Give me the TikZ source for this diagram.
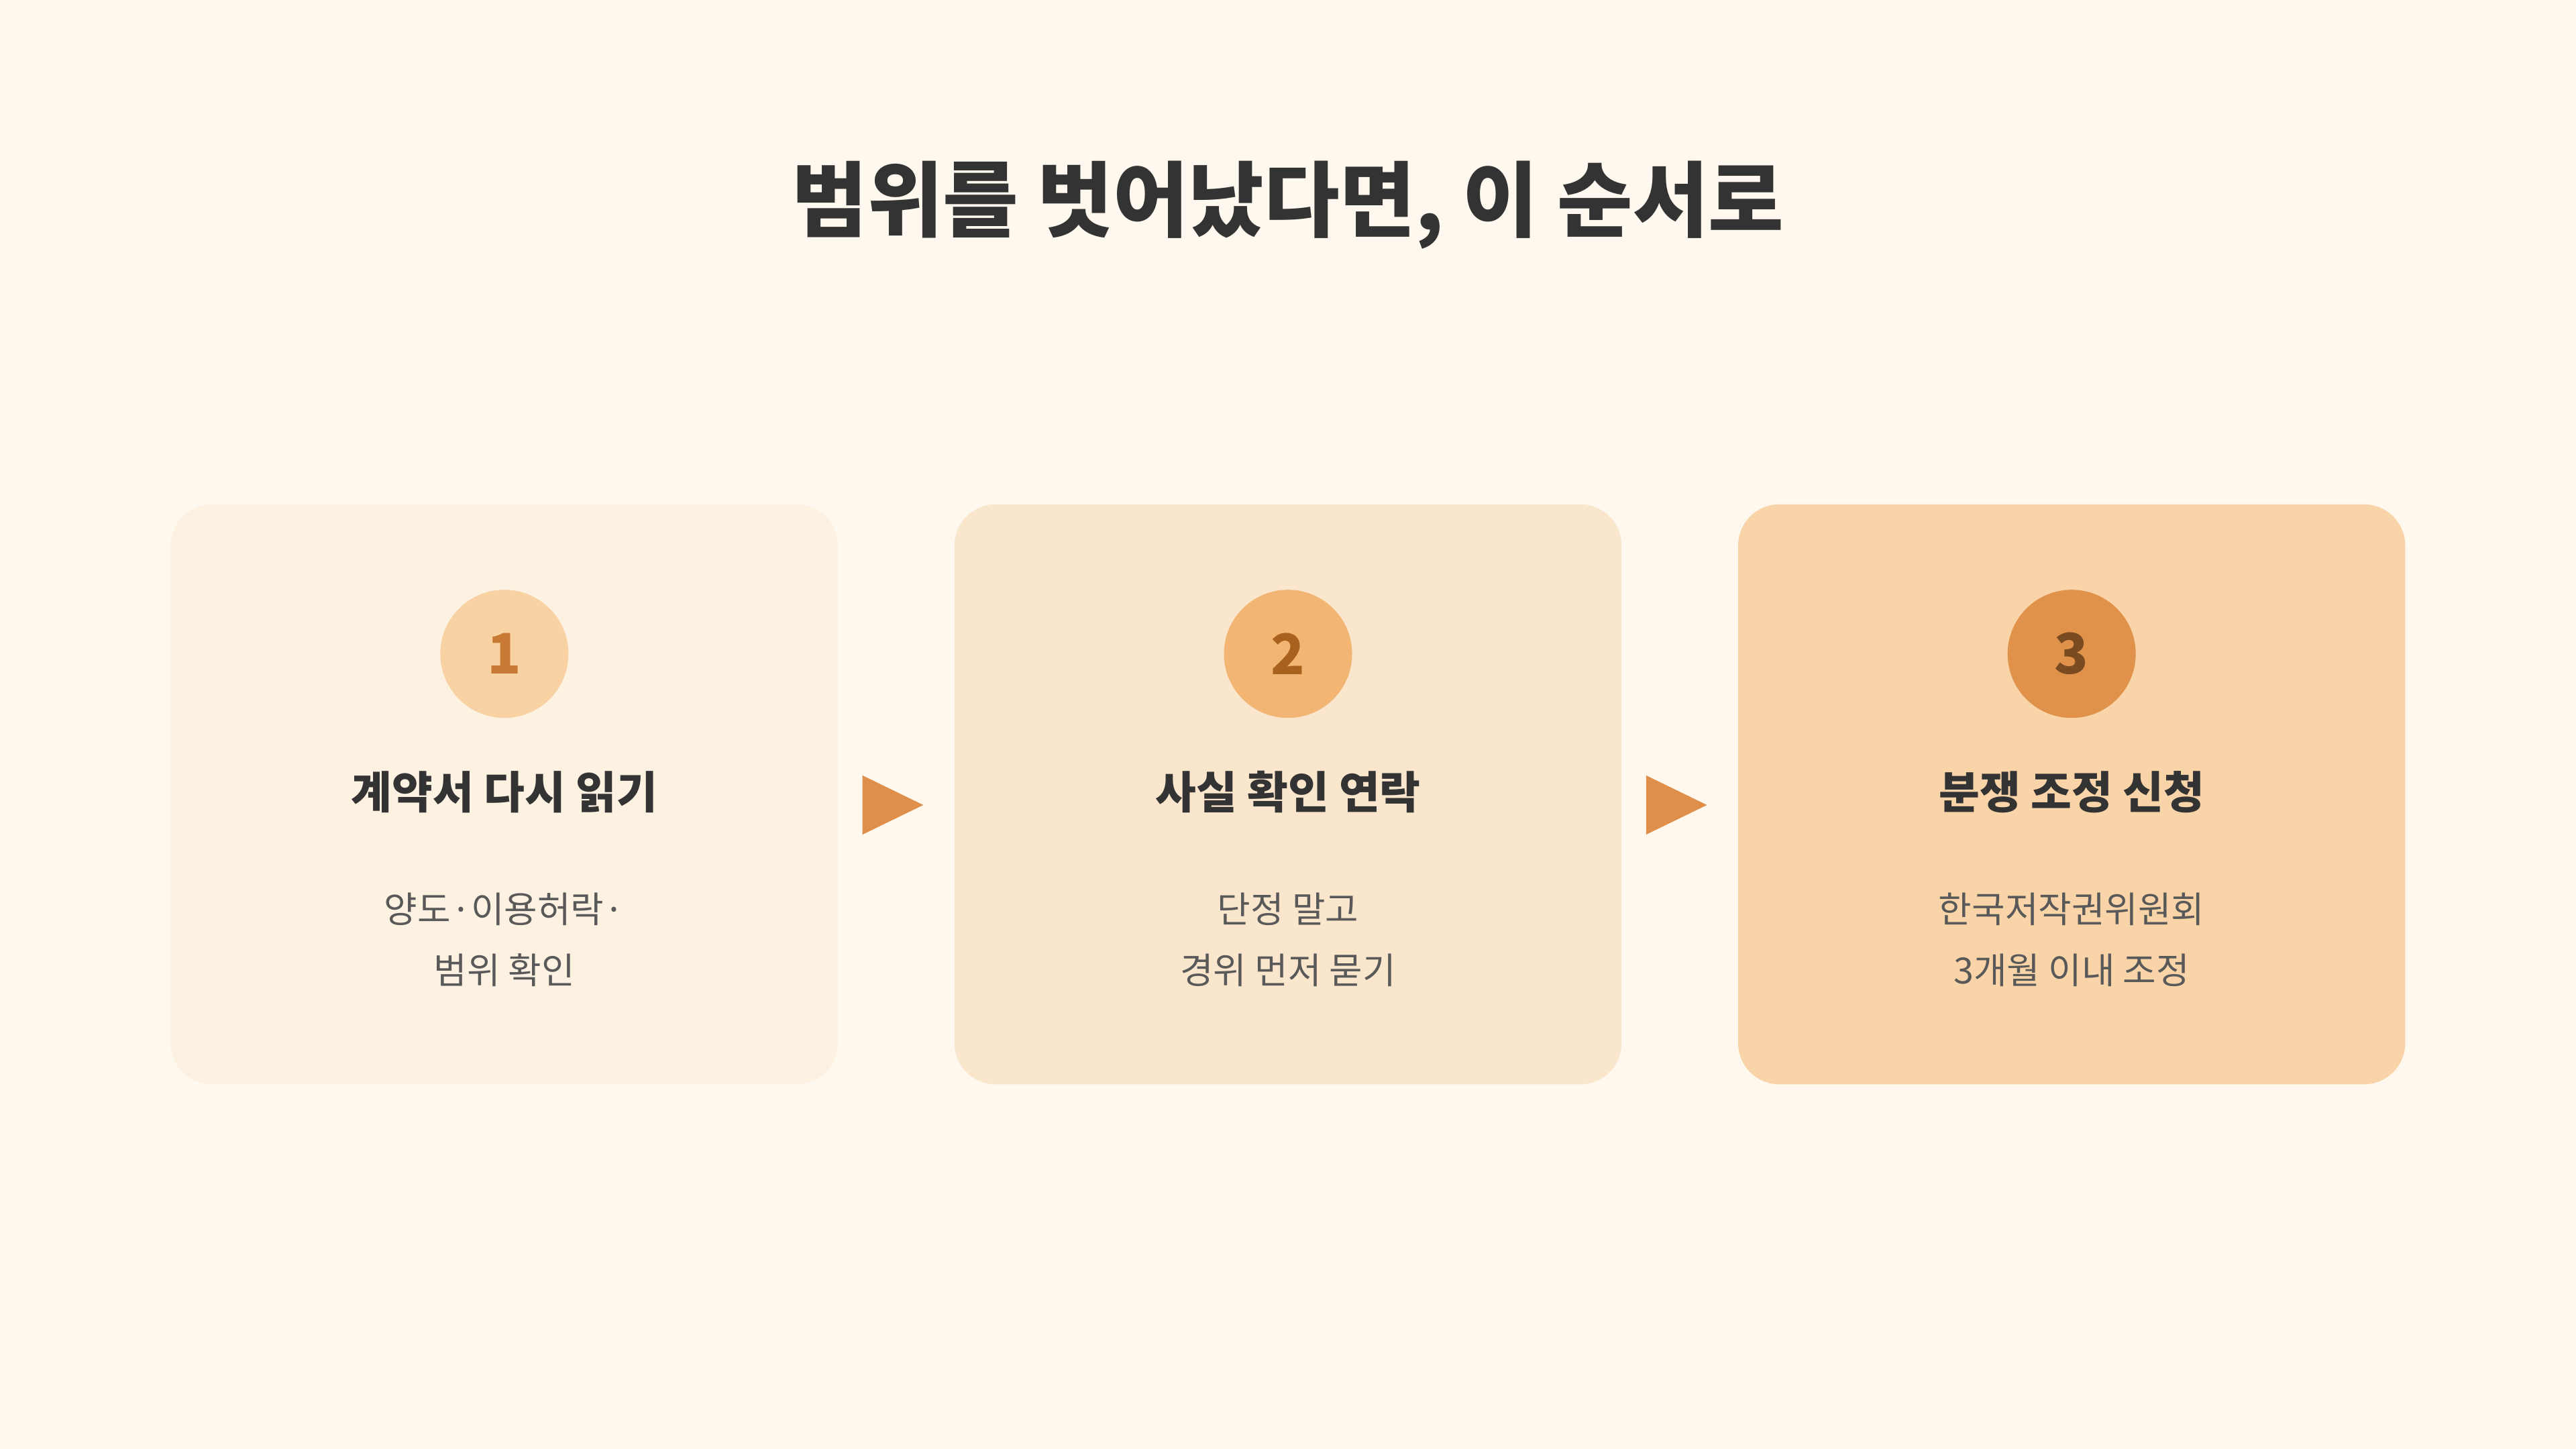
\documentclass[tikz,border=0pt]{standalone}
\usepackage{fontspec}
\setmainfont{Noto Sans CJK KR}
\begin{document}
\begin{tikzpicture}[x=1pt,y=-1pt,
 box/.style={rounded corners=25pt,draw=none},
 num/.style={circle,minimum size=78pt,inner sep=0pt,font=\fontsize{34}{36}\selectfont\bfseries},
 ttl/.style={font=\fontsize{27}{30}\selectfont\bfseries,text=black!80},
 body/.style={font=\fontsize{22}{37}\selectfont,text=black!65,align=center},
 arr/.style={fill=arrc,draw=none}]
\definecolor{bg}{HTML}{FEF8EE}
\definecolor{b1}{HTML}{FDF1E2}\definecolor{b2}{HTML}{FAE6CC}\definecolor{b3}{HTML}{F8D4A8}
\definecolor{c1}{HTML}{F9D2A4}\definecolor{c2}{HTML}{F2B574}\definecolor{c3}{HTML}{E0914A}
\definecolor{t1}{HTML}{C87A35}\definecolor{t2}{HTML}{A8621E}\definecolor{t3}{HTML}{7A4A20}
\definecolor{arrc}{HTML}{E08F4A}
\fill[bg] (0,0) rectangle (1568,882);
\useasboundingbox (0,0) rectangle (1568,882);
\node[font=\fontsize{50}{55}\selectfont\bfseries,text=black!80] (title) at (784,125) {범위를 벗어났다면, 이 순서로};
\foreach \i/\x/\t/\b/\c/\tc in {1/307/계약서 다시 읽기/{양도·이용허락·\\범위 확인}/c1/t1,
 2/784/사실 확인 연락/{단정 말고\\경위 먼저 묻기}/c2/t2,
 3/1261/분쟁 조정 신청/{한국저작권위원회\\3개월 이내 조정}/c3/t3}{
 \fill[b\i,rounded corners=25pt] (\x-203,307) rectangle (\x+203,660);
 \node[num,fill=\c,text=\tc] (n\i) at (\x,398) {\i};
 \node[ttl] (t\i) at (\x,482) {\t};
 \node[body] (d\i) at (\x,572) {\b};
}
\coordinate (a1) at (543,490);
\coordinate (a2) at (1020,490);
\foreach \a in {a1,a2}{
 \fill[arrc] ([shift={(-18,-18)}]\a) -- ([shift={(19,0)}]\a) -- ([shift={(-18,18)}]\a) -- cycle;
}
\end{tikzpicture}
\end{document}
